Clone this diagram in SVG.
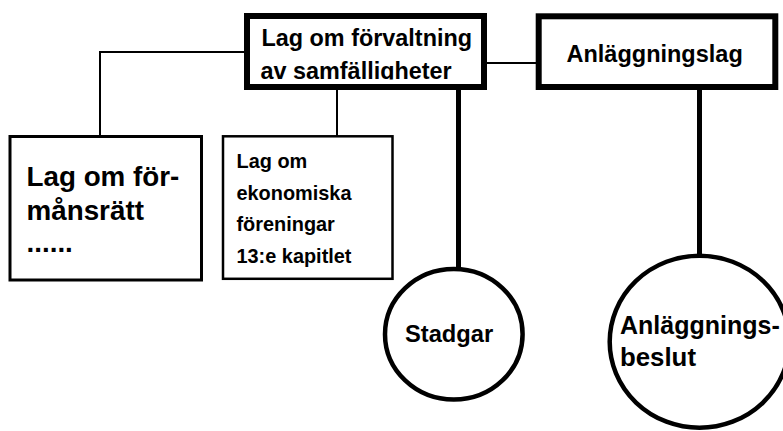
<svg xmlns="http://www.w3.org/2000/svg" width="783" height="431" viewBox="0 0 783 431">
<style>
  text { font-family: "Liberation Sans", Arial, sans-serif; font-weight: bold; fill: #000; }
  .box { fill: #fff; stroke: #000; }
  .thin { fill: none; stroke: #000; stroke-width: 2; }
  .thick { fill: none; stroke: #000; stroke-width: 5; }
  .circ { fill: #fff; stroke: #000; stroke-width: 4.5; }
</style>
<defs>
  <clipPath id="clipTop"><rect x="250" y="19" width="231" height="60.5"/></clipPath>
</defs>
<rect width="783" height="431" fill="#fff"/>
<g id="connectors">
  <polyline class="thin" points="100,136 100,52 245,52"/>
  <line class="thin" x1="337" y1="89" x2="337" y2="136"/>
  <line class="thin" x1="486" y1="63" x2="537" y2="63"/>
  <line class="thick" x1="458.5" y1="89" x2="458.5" y2="268"/>
  <line class="thick" x1="699.5" y1="89" x2="699.5" y2="256"/>
</g>
<g id="node-forvaltning">
  <rect class="box" x="247" y="16" width="237" height="71" stroke-width="6"/>
  <g clip-path="url(#clipTop)">
    <text x="261.5" y="46" font-size="23.4">Lag om förvaltning</text>
    <text x="260.5" y="79" font-size="23.4">av samfälligheter</text>
  </g>
</g>
<g id="node-anlaggningslag">
  <rect class="box" x="538.7" y="16.3" width="236.6" height="70.7" stroke-width="6"/>
  <text x="566.5" y="62" font-size="23.5">Anläggningslag</text>
</g>
<g id="node-formansratt">
  <rect class="box" x="10" y="136.5" width="191.5" height="143.5" stroke-width="3"/>
  <text x="26.5" y="186" font-size="27.8">Lag om för-</text>
  <text x="26.5" y="220" font-size="27.8">månsrätt</text>
  <text x="26.5" y="252" font-size="27.8">......</text>
</g>
<g id="node-ekonomiska">
  <rect class="box" x="223" y="136.3" width="169.5" height="142.5" stroke-width="2.5"/>
  <text x="236.5" y="168" font-size="19.9">Lag om</text>
  <text x="236.5" y="200" font-size="19.9">ekonomiska</text>
  <text x="236.5" y="231" font-size="19.9">föreningar</text>
  <text x="236.5" y="263" font-size="19.9">13:e kapitlet</text>
</g>
<g id="node-stadgar">
  <ellipse class="circ" cx="453.8" cy="334.2" rx="68.8" ry="65.3"/>
  <text x="405" y="342" font-size="23.7">Stadgar</text>
</g>
<g id="node-anlaggningsbeslut">
  <ellipse class="circ" cx="699.5" cy="341.7" rx="89.8" ry="86"/>
  <text x="620" y="333.5" font-size="25">Anläggnings-</text>
  <text x="620" y="366" font-size="25.8">beslut</text>
</g>
</svg>
